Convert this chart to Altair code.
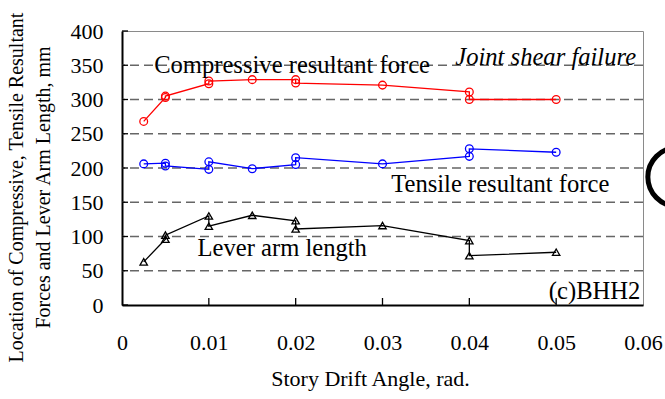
import altair as alt
import pandas as pd

# Story drift angle at each recorded point (two cycles at most amplitudes)
drift = [0.0025, 0.005, 0.005, 0.01, 0.01, 0.015, 0.02, 0.02, 0.03, 0.04, 0.04, 0.05]

# Locations measured from the beam face, mm
compressive = [268, 303, 305, 323, 327, 329, 329, 324, 321, 311, 300, 300]
tensile = [206, 207, 203, 198, 209, 199, 205, 215, 206, 217, 228, 223]
lever_arm = [63, 96, 102, 130, 115, 131, 123, 111, 116, 94, 72, 77]

series_names = ["Compressive", "Tensile", "Lever arm"]
series_colors = ["#ff0000", "#0000ff", "#000000"]

x_ticks = [0, 0.01, 0.02, 0.03, 0.04, 0.05, 0.06]
y_ticks = [0, 50, 100, 150, 200, 250, 300, 350, 400]
grid_levels = [50, 100, 150, 200, 250, 300, 350]

FONT = "Liberation Serif"

rows = []
for name, values in zip(series_names, [compressive, tensile, lever_arm]):
    for i, (d, v) in enumerate(zip(drift, values)):
        rows.append({"series": name, "step": i, "drift": d, "value": v})
df = pd.DataFrame(rows)

x_scale = alt.Scale(domain=[0, 0.06], nice=False, zero=False)
y_scale = alt.Scale(domain=[0, 400], nice=False)
color_scale = alt.Scale(domain=series_names, range=series_colors)

x_axis = alt.Axis(
    values=x_ticks, format=".2~f", labelFont=FONT, labelFontSize=22,
    labelColor="black", labelPadding=27, labelFlush=False, labelOverlap=False,
    ticks=False, grid=False, domainColor="black", domainWidth=2,
    title="Story Drift Angle, rad.", titleFont=FONT, titleFontSize=22,
    titleFontWeight="normal", titleColor="black",
    titleX=248, titleY=80, titleBaseline="alphabetic", titleAlign="center",
)
y_axis = alt.Axis(
    values=y_ticks, format="d", labelFont=FONT, labelFontSize=22,
    labelColor="black", labelPadding=19, labelOverlap=False, labelFlush=False,
    ticks=False, grid=False, domainColor="black", domainWidth=2,
    title=["Location of Compressive, Tensile Resultant",
           "Forces and Lever Arm Length, mm"],
    titleFont=FONT, titleFontSize=20, titleFontWeight="normal",
    titleColor="black", titleAngle=270, titleAlign="center",
    titleBaseline="top", titleLineHeight=27, titleX=-116, titleY=156,
)


def xq(field=None, datum=None):
    if datum is not None:
        return alt.X(datum=datum, scale=x_scale, axis=x_axis)
    return alt.X(field, type="quantitative", scale=x_scale, axis=x_axis)


def yq(field=None, datum=None):
    if datum is not None:
        return alt.Y(datum=datum, scale=y_scale, axis=y_axis)
    return alt.Y(field, type="quantitative", scale=y_scale, axis=y_axis)


# dashed horizontal gridlines
grid = alt.Chart(pd.DataFrame({"level": grid_levels})).mark_rule(
    color="#666666", strokeDash=[9, 5], strokeWidth=1.3
).encode(y=yq("level"))

# inward tick marks
y_tick_marks = alt.Chart(pd.DataFrame({"t": y_ticks})).mark_rule(
    color="black", strokeWidth=1.3
).encode(y=yq("t"), x=alt.value(0), x2=alt.value(6))
x_tick_marks = alt.Chart(pd.DataFrame({"t": x_ticks[1:-1]})).mark_rule(
    color="black", strokeWidth=1.3
).encode(x=xq("t"), y=alt.value(274), y2=alt.value(267))

base = alt.Chart(df).encode(
    x=xq("drift"),
    y=yq("value"),
    color=alt.Color("series:N", scale=color_scale, legend=None),
    order=alt.Order("step:Q"),
    detail="series:N",
)
lines = base.mark_line(strokeWidth=1.3)
circles = base.transform_filter(alt.datum.series != "Lever arm").mark_point(
    shape="circle", size=60, strokeWidth=1.3, filled=False, opacity=1
)
triangles = base.transform_filter(alt.datum.series == "Lever arm").mark_point(
    shape="triangle-up", size=55, strokeWidth=1.3, filled=False, opacity=1
)


def note(text, x, y, align="left", italic=False, size=24.6):
    return alt.Chart(pd.DataFrame({"label": [text]})).mark_text(
        font=FONT, fontSize=size, align=align, baseline="alphabetic",
        color="black", fontStyle="italic" if italic else "normal",
    ).encode(x=xq(datum=x), y=yq(datum=y), text="label:N")


notes = [
    note("Compressive resultant force", 0.0037, 339),
    note("Joint shear failure", 0.0592, 351, align="right", italic=True),
    note("Tensile resultant force", 0.0310, 165),
    note("Lever arm length", 0.0087, 72),
    note("(c)BHH2", 0.0597, 9, align="right"),
]

# ring belonging to the neighbouring panel, cut by the page edge
ring = alt.Chart(pd.DataFrame({"k": [0]})).mark_point(
    shape="circle", size=3400, strokeWidth=5, color="black", filled=False,
    opacity=1,
).encode(x=alt.value(555), y=alt.value(146))

chart = alt.layer(
    grid, y_tick_marks, x_tick_marks, lines, circles, triangles, *notes, ring
).properties(
    width=521, height=274,
    autosize=alt.AutoSizeParams(type="none"),
    padding={"left": 122, "top": 31, "right": 22, "bottom": 94},
    background="white",
).configure_view(stroke="#8a8a8a", strokeWidth=1)

chart.save("out.html", embed_options={"renderer": "svg", "actions": False})
